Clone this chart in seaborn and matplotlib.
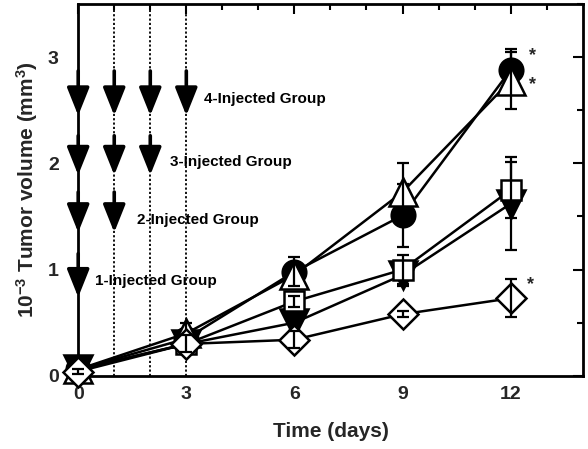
import matplotlib
matplotlib.use("Agg")
import matplotlib.pyplot as plt
import seaborn as sns
import pandas as pd
import numpy as np

sns.set_theme(style="white")
plt.rcParams['font.family'] = ['Liberation Sans', 'DejaVu Sans']
plt.rcParams['mathtext.fontset'] = 'custom'
plt.rcParams['mathtext.rm'] = 'Liberation Sans:bold'
plt.rcParams['mathtext.bf'] = 'Liberation Sans:bold'
plt.rcParams['mathtext.it'] = 'Liberation Sans:bold'
plt.rcParams['mathtext.default'] = 'bf'

days = [0, 3, 6, 9, 12]
# series: filled circle, open triangle, open square, filled down-triangle, open diamond
circle = [0.06, 0.35, 0.98, 1.51, 2.88]
circle_err = [0.03, 0.08, 0.14, 0.30, 0.20]
triangle = [0.06, 0.40, 0.95, 1.73, 2.78]
triangle_err = [0.03, 0.10, 0.10, 0.27, 0.27]
square = [0.06, 0.30, 0.70, 1.00, 1.75]
square_err = [0.03, 0.08, 0.05, 0.14, 0.26]
downtri = [0.06, 0.30, 0.50, 0.95, 1.62]
downtri_err = [0.03, 0.08, 0.08, 0.10, 0.44]
diamond = [0.04, 0.30, 0.34, 0.58, 0.73]
diamond_err = [0.02, 0.08, 0.08, 0.03, 0.18]

series_names = ["circle", "triangle", "square", "downtri", "diamond"]

# injection schedule: (day, arrow-head tip y) and group labels
inj_days = [0, 1, 2, 3]
group_levels = [2.45, 1.89, 1.35, 0.74]
group_tops = [2.87, 2.26, 1.73, 1.15]
group_labels = ["4-Injected Group", "3-Injected Group", "2-Injected Group", "1-Injected Group"]
label_x = [3.5, 2.55, 1.63, 0.47]
label_y = [2.61, 2.01, 1.47, 0.89]
n_inj = [4, 3, 2, 1]

star_x = [12.6, 12.6, 12.55]
star_y = [3.01, 2.74, 0.86]

df = pd.DataFrame({
    "day": days * 5,
    "vol": circle + triangle + square + downtri + diamond,
    "err": circle_err + triangle_err + square_err + downtri_err + diamond_err,
    "series": sum([[n] * len(days) for n in series_names], []),
})

fig = plt.figure(figsize=(5.88, 4.49), dpi=100)
ax = fig.add_axes([0.133, 0.163, 0.858, 0.828])

# dotted injection lines
for d in inj_days[1:]:
    ax.axvline(d, color="black", ls=(0, (1.2, 1.2)), lw=1.3, zorder=1)

# arrows
for gi, (top, tip) in enumerate(zip(group_tops, group_levels)):
    for d in inj_days[:n_inj[gi]]:
        ax.annotate("", xy=(d, tip), xytext=(d, top),
                    arrowprops=dict(arrowstyle="-|>,head_length=0.85,head_width=0.34",
                                    mutation_scale=20, lw=2.6, color="black",
                                    shrinkA=0, shrinkB=0),
                    zorder=3, annotation_clip=False)
    ax.text(label_x[gi], label_y[gi], group_labels[gi], fontsize=11, fontweight="bold",
            va="center", ha="left", color="black")

styles = {
    "circle": dict(marker="o", mfc="black", ms=17),
    "triangle": dict(marker="^", mfc="white", ms=20),
    "square": dict(marker="s", mfc="white", ms=15),
    "downtri": dict(marker="v", mfc="black", ms=20),
    "diamond": dict(marker="D", mfc="white", ms=15),
}
order_z = {"downtri": 4, "square": 5, "circle": 6, "triangle": 7, "diamond": 8}
for name in series_names:
    sub = df[df.series == name]
    st = styles[name]
    sns.lineplot(data=sub, x="day", y="vol", ax=ax, color="black", lw=1.8,
                 marker=st["marker"], markersize=st["ms"], markerfacecolor=st["mfc"],
                 markeredgecolor="black", markeredgewidth=1.8,
                 zorder=order_z[name], clip_on=False, legend=False)
    ax.errorbar(sub["day"], sub["vol"], yerr=sub["err"], fmt="none", ecolor="black",
                elinewidth=1.6, capsize=4, capthick=1.6, zorder=order_z[name] + 0.5,
                clip_on=False)

for sx, sy in zip(star_x, star_y):
    ax.text(sx, sy, "*", fontsize=13, fontweight="bold", ha="center", va="center")

ax.set_xlim(0, 14)
ax.set_ylim(0, 3.5)
ax.set_xticks([0, 3, 6, 9, 12])
ax.set_xticks(np.arange(0, 14, 1), minor=True)
ax.set_yticks([0, 1, 2, 3])
ax.set_yticks(np.arange(0, 3.6, 0.5), minor=True)
ax.tick_params(which="both", direction="in", top=True, right=True, width=1.5, color="black")
ax.tick_params(which="major", length=7, labelsize=14)
ax.tick_params(axis="x", which="major", pad=7)
ax.tick_params(axis="y", which="major", pad=14)
ax.tick_params(which="minor", length=4)
for lab in ax.get_xticklabels() + ax.get_yticklabels():
    lab.set_fontweight("bold")
for sp in ax.spines.values():
    sp.set_linewidth(2)
    sp.set_color("black")

ax.set_xlabel("Time (days)", fontsize=15, fontweight="bold", labelpad=14)
ax.set_ylabel(r"10$^{-3}$ Tumor volume (mm$^{3}$)", fontsize=15,
              fontweight="bold", labelpad=6)

fig.savefig("out.png", dpi=100)
